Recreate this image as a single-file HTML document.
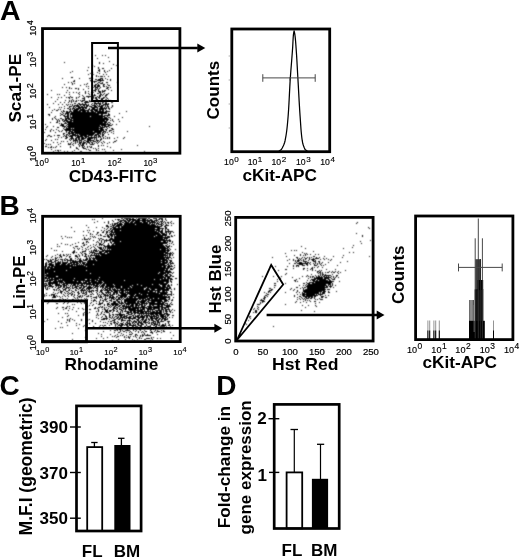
<!DOCTYPE html>
<html lang="en"><head><meta charset="utf-8"><title>Figure</title>
<style>html,body{margin:0;padding:0;background:#fff}body{width:520px;height:560px;overflow:hidden}svg{display:block}text{font-family:'Liberation Sans',Arial,Helvetica,sans-serif}</style></head><body>
<svg width="520" height="560" viewBox="0 0 520 560">
<defs><filter id="soft" x="-2%" y="-2%" width="104%" height="104%"><feConvolveMatrix order="3" kernelMatrix=".04 .11 .04 .11 .4 .11 .04 .11 .04" divisor="1" edgeMode="none" preserveAlpha="false"/></filter></defs>
<rect width="520" height="560" fill="#fff"/>
<text x="-.1" y="19.7" font-size="28.5" font-weight="bold" text-anchor="start" fill="#000">A</text>
<path d="M95 55.5h1m6 0h1m2 0h1M108 57.5h1M97 58.5h1M109 61.5h1M64 62.5h1m34 0h1M99 63.5h1m3 0h1M113 64.5h1M92 65.5h1m23 0h1M94 66.5h1M88 67.5h1m9 0h1M98 68.5h1m3 0h2m7 0h1M99 69.5h1M87 70.5h1m10 0h2m4 0h1m4 0h1M72 71.5h1m26 0h1m4 0h1m2 0h1M70 72.5h1m21 0h1m4 0h1m7 0h1M90 73.5h1m8 0h1M88 74.5h1m4 0h1m9 0h1m2 0h1M96 75.5h1M96 76.5h1m1 0h1m1 0h3m1 0h1m3 0h1M71 77.5h2m18 0h1M62 78.5h1m16 0h1m9 0h2m1 0h1m7 0h3m2 0h1M95 79.5h2m1 0h3m1 0h1m4 0h1m2 0h1M74 80.5h1m15 0h2m5 0h7m6 0h1M73 81.5h2m16 0h1m1 0h4m3 0h1M68 82.5h1m2 0h1m22 0h1m3 0h2m2 0h1m3 0h2m9 0h1M72 83.5h1m1 0h1m12 0h1m9 0h1m2 0h3M64 84.5h1m7 0h1m11 0h1m1 0h1m8 0h2m1 0h1m4 0h2m2 0h1M80 85.5h1m11 0h1m1 0h2m1 0h3m3 0h1m4 0h2M86 86.5h1m1 0h1m5 0h2m1 0h3m3 0h2m1 0h1M62 87.5h1m3 0h1m2 0h1m23 0h1m1 0h3m2 0h1m6 0h2m1 0h1M69 88.5h1m1 0h1m3 0h2m1 0h1m9 0h1m6 0h1m1 0h1m1 0h1m6 0h2M78 89.5h1m4 0h1m11 0h2m1 0h1m9 0h1M51 90.5h1m15 0h1m25 0h3m2 0h1m3 0h1m1 0h2m5 0h1M85 91.5h1m2 0h1m3 0h1m2 0h1m2 0h3m1 0h3M66 92.5h1m2 0h1m3 0h1m2 0h1m2 0h1m5 0h1m5 0h1m1 0h1m5 0h2m1 0h1M78 93.5h1m6 0h1m2 0h1m8 0h2m1 0h1m3 0h1m3 0h1M47 94.5h1m9 0h1m1 0h1m9 0h1m9 0h1m9 0h1m1 0h1m2 0h1m5 0h2m1 0h1m2 0h2M64 95.5h1m17 0h1m10 0h3m3 0h2m1 0h1m2 0h2M70 96.5h1m8 0h1m3 0h1m2 0h6m1 0h1m3 0h1m1 0h2m4 0h1M51 97.5h1m6 0h1m2 0h1m4 0h1m1 0h2m1 0h2m3 0h1m1 0h1m5 0h1m3 0h1m3 0h2m1 0h2m1 0h2m3 0h2m1 0h1M69 98.5h1m6 0h1m5 0h3m6 0h1m1 0h1m1 0h2m2 0h1m1 0h3m3 0h1M57 99.5h1m14 0h1m11 0h1m11 0h2m3 0h2m2 0h2m1 0h1M65 100.5h1m3 0h1m1 0h1m1 0h1m2 0h1m1 0h1m1 0h1m1 0h3m4 0h1m1 0h3m1 0h3m2 0h3m7 0h1M55 101.5h1m13 0h1m1 0h1m1 0h1m1 0h2m4 0h2m2 0h3m1 0h3m1 0h1m3 0h2m3 0h1m1 0h1M60 102.5h1m3 0h1m3 0h1m2 0h1m12 0h5m5 0h2m2 0h1m1 0h1m1 0h2m1 0h2m4 0h2M53 103.5h1m20 0h2m2 0h2m2 0h1m2 0h1m6 0h1m1 0h7m1 0h1m2 0h2m1 0h1M47 104.5h1m10 0h1m3 0h1m3 0h1m1 0h1m1 0h1m1 0h1m4 0h1m1 0h8m1 0h1m2 0h1m2 0h1m1 0h1m2 0h2m2 0h6M67 105.5h1m4 0h1m1 0h5m1 0h1m2 0h2m1 0h3m3 0h4m1 0h1m1 0h1m1 0h3m1 0h1m1 0h1m4 0h1M64 106.5h1m4 0h3m1 0h2m1 0h4m1 0h2m1 0h1m1 0h2m1 0h3m2 0h3m1 0h5m2 0h1m1 0h2m3 0h1M49 107.5h1m9 0h1m1 0h1m7 0h1m3 0h1m1 0h1m2 0h9m4 0h7m2 0h3m1 0h1m1 0h1m1 0h1m2 0h1M64 108.5h1m2 0h2m1 0h1m1 0h3m1 0h5m1 0h2m1 0h2m2 0h1m2 0h3m2 0h1m1 0h8m1 0h2M54 109.5h1m3 0h1m1 0h1m8 0h2m1 0h1m1 0h5m1 0h5m3 0h2m1 0h7m1 0h5m1 0h1m3 0h1M52 110.5h1m3 0h2m5 0h1m6 0h1m2 0h5m1 0h10m1 0h3m1 0h4m1 0h2m1 0h2m2 0h1M61 111.5h1m1 0h2m1 0h2m1 0h3m1 0h8m1 0h4m1 0h2m2 0h3m1 0h9m1 0h5m16 0h1M51 112.5h1m10 0h1m3 0h4m1 0h25m1 0h10M60 113.5h1m2 0h1m1 0h4m1 0h37m1 0h1m10 0h1M48 114.5h2m11 0h2m2 0h1m1 0h2m1 0h29m2 0h2m5 0h2M49 115.5h1m10 0h1m2 0h2m2 0h2m1 0h1m1 0h31m1 0h6M55 116.5h1m8 0h5m1 0h1m1 0h18m1 0h14m2 0h1m6 0h1M54 117.5h1m10 0h1m1 0h2m1 0h33m1 0h3m1 0h2m12 0h1M52 118.5h1m2 0h1m4 0h2m3 0h5m1 0h37m2 0h1M52 119.5h1m3 0h1m1 0h1m3 0h2m1 0h2m1 0h4m1 0h36m3 0h1m5 0h1M57 120.5h1m1 0h1m2 0h1m1 0h4m2 0h35m1 0h2m2 0h1m1 0h1M57 121.5h1m1 0h1m3 0h2m1 0h6m1 0h34m6 0h1m5 0h1M50 122.5h1m5 0h2m7 0h1m1 0h36m1 0h3m1 0h2M59 123.5h1m1 0h1m2 0h3m1 0h38m1 0h1m2 0h1M45 124.5h1m15 0h3m3 0h43m2 0h1m3 0h1M60 125.5h4m2 0h1m1 0h32m1 0h5m2 0h4M47 126.5h1m5 0h1m8 0h4m1 0h34m1 0h1m1 0h5m40 0h1M46 127.5h1m10 0h2m5 0h1m1 0h1m1 0h31m1 0h5m1 0h1m2 0h1M63 128.5h1m2 0h5m1 0h1m1 0h29m4 0h1m3 0h2M45 129.5h1m5 0h1m4 0h1m7 0h35m1 0h4m1 0h2m5 0h2M50 130.5h1m2 0h1m4 0h1m3 0h1m2 0h6m1 0h32m2 0h1m2 0h3M50 131.5h1m8 0h1m1 0h1m4 0h1m2 0h4m1 0h19m1 0h8m1 0h3m3 0h1m3 0h1m13 0h1M44 132.5h1m10 0h1m10 0h1m1 0h2m1 0h30m1 0h2m1 0h1m1 0h1m3 0h1M63 133.5h2m3 0h6m1 0h20m2 0h4m1 0h1m1 0h1m8 0h1M63 134.5h1m2 0h2m1 0h1m2 0h4m1 0h1m1 0h15m1 0h4m1 0h1m1 0h2m4 0h1M48 135.5h2m4 0h1m2 0h3m4 0h1m1 0h1m1 0h1m1 0h9m1 0h7m1 0h5m1 0h3m1 0h2m2 0h2M47 136.5h1m2 0h2m11 0h1m1 0h2m2 0h4m2 0h1m1 0h6m1 0h5m2 0h1m2 0h1m1 0h1m1 0h3m1 0h1m2 0h1M58 137.5h1m2 0h1m4 0h2m3 0h2m3 0h4m1 0h3m1 0h2m1 0h9m1 0h1m1 0h1m2 0h1m3 0h1m1 0h1m7 0h1m6 0h1M65 138.5h2m3 0h4m1 0h2m1 0h2m1 0h5m1 0h6m1 0h1m1 0h1m4 0h1m1 0h1m1 0h1m1 0h1m1 0h1m4 0h1m8 0h1M46 139.5h1m8 0h1m1 0h1m11 0h1m1 0h1m1 0h1m1 0h2m1 0h2m1 0h3m3 0h4m3 0h1m1 0h1m3 0h2M45 140.5h1m5 0h1m18 0h1m2 0h5m1 0h3m2 0h2m1 0h7m2 0h3m1 0h1m15 0h1M61 141.5h1m1 0h1m3 0h1m5 0h1m1 0h1m1 0h1m1 0h1m1 0h1m1 0h1m2 0h3m1 0h1m2 0h3m1 0h1m1 0h1m3 0h1m10 0h2M53 142.5h1m3 0h1m13 0h1m3 0h1m1 0h1m1 0h3m1 0h3m1 0h3m1 0h2m3 0h1m1 0h1m2 0h1m2 0h1m4 0h1m3 0h1M44 143.5h1m15 0h1m7 0h1m1 0h1m2 0h1m1 0h1m3 0h2m1 0h3m1 0h1m2 0h1m2 0h1m1 0h1m2 0h1m4 0h1m4 0h1M46 144.5h1m1 0h1m1 0h1m7 0h1m9 0h3m1 0h1m5 0h1m1 0h1m1 0h2m2 0h1m3 0h4M73 145.5h1m5 0h1m1 0h3m14 0h1m2 0h1m1 0h1m33 0h1M45 146.5h2m4 0h1m4 0h1m3 0h1m9 0h1m8 0h1m2 0h1m1 0h1m2 0h1m1 0h1m1 0h1m6 0h1m8 0h1M48 147.5h1m1 0h2m1 0h1m1 0h1m14 0h1m5 0h1m5 0h2m3 0h1m2 0h2m18 0h1M76 148.5h2m5 0h3m7 0h1m1 0h1m2 0h1M51 149.5h1m26 0h1m7 0h1m1 0h1m7 0h1m5 0h1m1 0h1m16 0h1M55 150.5h1m1 0h2m1 0h1m13 0h1m14 0h2m5 0h1m1 0h1m14 0h1M53 151.5h1m4 0h1m5 0h1m2 0h1m4 0h1m7 0h2m23 0h1m38 0h1" stroke="#000" stroke-width="1" fill="none" filter="url(#soft)"/>
<rect x="42.5" y="28.6" width="137.4" height="124.6" fill="none" stroke="#000" stroke-width="2.8"/>
<rect x="92.1" y="43" width="25.8" height="58" fill="none" stroke="#000" stroke-width="2.0"/>
<line x1="108" y1="48" x2="197.8" y2="48" stroke="#000" stroke-width="2.3"/>
<path d="M205.3 48L197.3 43.6L197.3 52.4Z" fill="#000"/>
<text x="21" y="122.6" font-size="17.2" font-weight="bold" text-anchor="start" fill="#000" transform="rotate(-90 21 122.6)">Sca1-PE</text>
<text x="68.7" y="182.4" font-size="17" font-weight="bold" text-anchor="start" fill="#000" textLength="88.2" lengthAdjust="spacingAndGlyphs">CD43-FITC</text>
<text x="36.4" y="153.8" font-size="9.2" text-anchor="middle" fill="#000" stroke="#000" stroke-width=".2" transform="rotate(-90 36.4 153.8)">10<tspan font-size="8.56" dx=".5" dy="-3.86">0</tspan></text>
<text x="36.4" y="121.8" font-size="9.2" text-anchor="middle" fill="#000" stroke="#000" stroke-width=".2" transform="rotate(-90 36.4 121.8)">10<tspan font-size="8.56" dx=".5" dy="-3.86">1</tspan></text>
<text x="36.4" y="91" font-size="9.2" text-anchor="middle" fill="#000" stroke="#000" stroke-width=".2" transform="rotate(-90 36.4 91)">10<tspan font-size="8.56" dx=".5" dy="-3.86">2</tspan></text>
<text x="36.4" y="59.4" font-size="9.2" text-anchor="middle" fill="#000" stroke="#000" stroke-width=".2" transform="rotate(-90 36.4 59.4)">10<tspan font-size="8.56" dx=".5" dy="-3.86">3</tspan></text>
<text x="36.4" y="28" font-size="9.2" text-anchor="middle" fill="#000" stroke="#000" stroke-width=".2" transform="rotate(-90 36.4 28)">10<tspan font-size="8.56" dx=".5" dy="-3.86">4</tspan></text>
<text x="41.8" y="166.2" font-size="8.3" text-anchor="middle" fill="#000" stroke="#000" stroke-width=".15">10<tspan font-size="7.72" dx=".5" dy="-3.49">0</tspan></text>
<text x="78.2" y="166.2" font-size="8.3" text-anchor="middle" fill="#000" stroke="#000" stroke-width=".15">10<tspan font-size="7.72" dx=".5" dy="-3.49">1</tspan></text>
<text x="114.6" y="166.2" font-size="8.3" text-anchor="middle" fill="#000" stroke="#000" stroke-width=".15">10<tspan font-size="7.72" dx=".5" dy="-3.49">2</tspan></text>
<text x="150.4" y="166.2" font-size="8.3" text-anchor="middle" fill="#000" stroke="#000" stroke-width=".15">10<tspan font-size="7.72" dx=".5" dy="-3.49">3</tspan></text>
<path d="M278.8 151.2L281.39 149.46L282.36 147.71L283.24 145.97L284 144.22L284.61 142.48L285.06 140.73L285.41 138.99L285.74 137.24L286.03 135.5L286.3 133.75L286.55 132.01L286.78 130.26L286.99 128.52L287.18 126.77L287.36 125.03L287.52 123.28L287.68 121.54L287.83 119.79L287.98 118.05L288.12 116.3L288.26 114.56L288.38 112.81L288.5 111.07L288.61 109.32L288.72 107.58L288.82 105.83L288.92 104.09L289.01 102.34L289.11 100.6L289.19 98.85L289.28 97.11L289.37 95.36L289.45 93.62L289.54 91.87L289.63 90.13L289.72 88.38L289.81 86.64L289.91 84.89L290.01 83.15L290.11 81.4L290.22 79.66L290.33 77.91L290.45 76.17L290.58 74.42L290.71 72.68L290.84 70.93L290.97 69.19L291.11 67.44L291.25 65.7L291.39 63.95L291.53 62.21L291.67 60.46L291.81 58.72L291.95 56.97L292.08 55.23L292.22 53.48L292.35 51.74L292.47 49.99L292.6 48.25L292.71 46.5L292.8 44.76L292.89 43.01L292.98 41.27L293.07 39.52L293.18 37.78L293.31 36.03L293.47 34.29L293.73 32.54L294.1 30.8L294.1 30.8L294.52 32.54L294.84 34.29L295.06 36.03L295.26 37.78L295.43 39.52L295.58 41.27L295.72 43.01L295.85 44.76L295.98 46.5L296.1 48.25L296.23 49.99L296.35 51.74L296.47 53.48L296.58 55.23L296.69 56.97L296.79 58.72L296.9 60.46L297 62.21L297.09 63.95L297.19 65.7L297.29 67.44L297.38 69.19L297.48 70.93L297.57 72.68L297.67 74.42L297.77 76.17L297.87 77.91L297.97 79.66L298.07 81.4L298.17 83.15L298.27 84.89L298.37 86.64L298.46 88.38L298.55 90.13L298.65 91.87L298.74 93.62L298.84 95.36L298.93 97.11L299.03 98.85L299.12 100.6L299.22 102.34L299.32 104.09L299.42 105.83L299.53 107.58L299.63 109.32L299.74 111.07L299.86 112.81L299.97 114.56L300.09 116.3L300.22 118.05L300.34 119.79L300.46 121.54L300.58 123.28L300.69 125.03L300.82 126.77L300.94 128.52L301.08 130.26L301.23 132.01L301.4 133.75L301.58 135.5L301.78 137.24L302.01 138.99L302.26 140.73L302.58 142.48L303.03 144.22L303.6 145.97L304.28 147.71L305.07 149.46L307.4 151.2" fill="none" stroke="#000" stroke-width="1.25" stroke-linejoin="round"/>
<rect x="231.8" y="29" width="97.9" height="122.7" fill="none" stroke="#000" stroke-width="2.8"/>
<line x1="262.8" y1="77.9" x2="315.2" y2="77.9" stroke="#484848" stroke-width="1"/>
<line x1="262.8" y1="74.2" x2="262.8" y2="81.8" stroke="#484848" stroke-width="1"/>
<line x1="315.2" y1="74.2" x2="315.2" y2="81.8" stroke="#484848" stroke-width="1"/>
<line x1="289.8" y1="77" x2="289.8" y2="80.6" stroke="#484848" stroke-width="0.8"/>
<line x1="228.6" y1="128" x2="230.4" y2="128" stroke="#777" stroke-width="0.6"/>
<line x1="228.6" y1="104" x2="230.4" y2="104" stroke="#777" stroke-width="0.6"/>
<line x1="228.6" y1="80" x2="230.4" y2="80" stroke="#777" stroke-width="0.6"/>
<line x1="228.6" y1="56" x2="230.4" y2="56" stroke="#777" stroke-width="0.6"/>
<text x="219.4" y="119.4" font-size="17" font-weight="bold" text-anchor="start" fill="#000" transform="rotate(-90 219.4 119.4)">Counts</text>
<text x="242.4" y="181.2" font-size="17" font-weight="bold" text-anchor="start" fill="#000" textLength="74.6" lengthAdjust="spacingAndGlyphs">cKit-APC</text>
<text x="231.4" y="165.2" font-size="8.7" text-anchor="middle" fill="#000" stroke="#000" stroke-width=".15">10<tspan font-size="8.09" dx=".5" dy="-3.65">0</tspan></text>
<text x="255" y="165.2" font-size="8.7" text-anchor="middle" fill="#000" stroke="#000" stroke-width=".15">10<tspan font-size="8.09" dx=".5" dy="-3.65">1</tspan></text>
<text x="278.8" y="165.2" font-size="8.7" text-anchor="middle" fill="#000" stroke="#000" stroke-width=".15">10<tspan font-size="8.09" dx=".5" dy="-3.65">2</tspan></text>
<text x="303.3" y="165.2" font-size="8.7" text-anchor="middle" fill="#000" stroke="#000" stroke-width=".15">10<tspan font-size="8.09" dx=".5" dy="-3.65">3</tspan></text>
<text x="327.6" y="165.2" font-size="8.7" text-anchor="middle" fill="#000" stroke="#000" stroke-width=".15">10<tspan font-size="8.09" dx=".5" dy="-3.65">4</tspan></text>
<text x="-.4" y="214.7" font-size="28" font-weight="bold" text-anchor="start" fill="#000">B</text>
<path d="M102 218.5h1m18 0h2m1 0h7m1 0h2m2 0h1m1 0h9m1 0h2m3 0h4m2 0h4m2 0h1M92 219.5h1m1 0h1m20 0h1m1 0h3m3 0h1m2 0h2m1 0h7m1 0h3m2 0h4m1 0h1m2 0h2m4 0h1m1 0h2m1 0h2m2 0h1M112 220.5h1m5 0h1m1 0h6m1 0h4m1 0h21m1 0h4m4 0h1m3 0h1M97 221.5h1m10 0h1m4 0h1m5 0h3m2 0h3m1 0h2m1 0h3m1 0h5m2 0h4m1 0h3m1 0h4m1 0h1m1 0h1m1 0h3m1 0h1m6 0h1M94 222.5h1m9 0h1m3 0h1m8 0h2m1 0h1m1 0h2m1 0h4m1 0h3m1 0h8m1 0h5m1 0h7m1 0h1m1 0h1m1 0h1m1 0h1m1 0h1m1 0h2m1 0h1M108 223.5h1m3 0h1m1 0h4m1 0h3m2 0h24m1 0h2m1 0h1m1 0h1m1 0h3m2 0h2m2 0h1m2 0h1m2 0h1m1 0h1M110 224.5h1m1 0h1m1 0h2m1 0h6m1 0h11m1 0h14m1 0h4m1 0h1m1 0h4m1 0h1m2 0h1M86 225.5h1m19 0h2m4 0h3m1 0h6m1 0h33m1 0h1m3 0h2m2 0h4m2 0h1M106 226.5h3m1 0h2m1 0h1m1 0h5m1 0h41m2 0h2M71 227.5h1m16 0h1m7 0h1m5 0h1m5 0h1m3 0h4m2 0h2m1 0h39m5 0h2M104 228.5h1m2 0h1m2 0h2m1 0h42m2 0h7m1 0h2M106 229.5h1m3 0h1m1 0h48m2 0h1m2 0h1m1 0h2M87 230.5h1m1 0h1m11 0h1m2 0h1m3 0h2m1 0h2m1 0h6m1 0h34m1 0h4m1 0h2m2 0h1m2 0h1M74 231.5h1m8 0h1m9 0h1m9 0h1m2 0h2m2 0h3m1 0h43m1 0h5m2 0h8M88 232.5h1m8 0h2m3 0h2m2 0h2m1 0h1m1 0h48m1 0h3m2 0h2m1 0h1m1 0h1m2 0h1M90 233.5h1m6 0h1m8 0h1m3 0h2m1 0h1m1 0h45m1 0h4m1 0h1m2 0h2M90 234.5h1m1 0h1m3 0h1m3 0h1m4 0h1m1 0h1m1 0h52m1 0h5m2 0h1M83 235.5h1m2 0h1m11 0h1m1 0h2m5 0h2m1 0h3m1 0h1m1 0h40m1 0h10m4 0h1m2 0h1M61 236.5h1m3 0h1m24 0h1m1 0h1m1 0h1m8 0h3m1 0h3m1 0h2m1 0h40m1 0h8m2 0h1m1 0h3m1 0h2M67 237.5h1m1 0h1m1 0h1m12 0h1m8 0h1m1 0h1m12 0h2m1 0h1m2 0h56M62 238.5h1m21 0h1m3 0h1m1 0h1m7 0h1m1 0h2m8 0h3m1 0h49m1 0h4M82 239.5h1m1 0h4m1 0h1m9 0h1m2 0h2m2 0h1m2 0h56m1 0h1m2 0h1M93 240.5h1m5 0h1m1 0h1m2 0h7m1 0h59M86 241.5h2m9 0h1m3 0h1m2 0h1m1 0h1m3 0h1m1 0h8m1 0h40m2 0h3m1 0h1m1 0h2m1 0h1M78 242.5h1m4 0h1m2 0h1m1 0h1m7 0h1m1 0h1m2 0h1m2 0h1m5 0h2m2 0h54m4 0h1M61 243.5h1m13 0h1m6 0h2m15 0h2m2 0h1m4 0h1m2 0h1m1 0h54m2 0h1m1 0h1M57 244.5h1m7 0h1m1 0h1m4 0h1m11 0h1m1 0h1m6 0h1m2 0h1m2 0h4m5 0h1m3 0h2m1 0h48m4 0h1m5 0h1M70 245.5h1m12 0h2m5 0h1m4 0h1m3 0h1m1 0h1m1 0h2m2 0h3m1 0h53m1 0h2m2 0h1M57 246.5h1m1 0h1m15 0h3m3 0h1m6 0h1m4 0h1m3 0h1m6 0h61m1 0h4m1 0h1M73 247.5h1m8 0h1m4 0h1m3 0h1m2 0h1m3 0h4m1 0h1m1 0h1m1 0h59m1 0h2M51 248.5h1m22 0h1m2 0h1m1 0h1m5 0h1m4 0h1m4 0h1m3 0h3m1 0h1m1 0h1m1 0h61m1 0h1M78 249.5h1m3 0h1m3 0h1m1 0h1m5 0h1m1 0h1m3 0h3m1 0h1m2 0h1m1 0h1m1 0h49m1 0h5m1 0h2m1 0h1m4 0h1M54 250.5h1m1 0h1m17 0h1m10 0h1m5 0h1m1 0h4m1 0h1m3 0h68M62 251.5h1m10 0h2m7 0h4m3 0h1m1 0h1m1 0h1m1 0h3m1 0h5m1 0h61m1 0h2M72 252.5h3m1 0h1m3 0h1m1 0h1m7 0h5m4 0h3m2 0h4m1 0h59m2 0h1m1 0h1M73 253.5h1m7 0h1m2 0h2m3 0h1m2 0h1m1 0h11m2 0h57m1 0h7m1 0h1M57 254.5h1m2 0h1m2 0h1m2 0h1m1 0h1m1 0h1m7 0h1m3 0h1m2 0h2m4 0h1m2 0h1m1 0h1m1 0h1m1 0h66m1 0h1m1 0h2m1 0h1M47 255.5h1m7 0h1m3 0h2m2 0h2m2 0h1m7 0h2m2 0h1m2 0h1m2 0h1m2 0h1m1 0h10m1 0h67m1 0h2m1 0h1M46 256.5h1m5 0h1m7 0h2m4 0h1m2 0h2m4 0h3m1 0h1m4 0h3m1 0h1m1 0h1m4 0h69m1 0h1m1 0h1m1 0h1M51 257.5h1m3 0h1m1 0h1m1 0h1m1 0h1m7 0h1m7 0h1m8 0h1m2 0h1m1 0h1m1 0h1m1 0h76m2 0h1M55 258.5h2m8 0h1m4 0h2m3 0h1m2 0h1m1 0h1m5 0h2m1 0h2m1 0h73m1 0h3m2 0h1M44 259.5h1m1 0h1m3 0h1m1 0h2m1 0h1m2 0h1m1 0h3m1 0h1m1 0h2m2 0h2m5 0h1m1 0h2m2 0h1m1 0h3m1 0h2m2 0h2m1 0h71m1 0h1M47 260.5h2m1 0h2m3 0h3m4 0h1m1 0h2m1 0h7m1 0h1m3 0h3m1 0h4m1 0h8m1 0h64m1 0h6m1 0h3M48 261.5h4m2 0h2m2 0h1m1 0h1m1 0h1m4 0h1m2 0h1m1 0h11m4 0h78m1 0h2m2 0h2M46 262.5h1m1 0h1m2 0h3m1 0h1m1 0h4m1 0h6m2 0h8m1 0h2m1 0h4m1 0h74m1 0h6m1 0h2m1 0h1M45 263.5h2m2 0h3m3 0h6m1 0h5m1 0h4m1 0h2m1 0h3m1 0h1m1 0h3m1 0h81m1 0h1m1 0h4M45 264.5h2m1 0h6m1 0h5m1 0h5m1 0h3m1 0h7m1 0h1m1 0h1m1 0h10m1 0h71m2 0h2m1 0h1M45 265.5h2m2 0h5m1 0h18m1 0h1m1 0h8m1 0h82m1 0h2m1 0h1m2 0h1M44 266.5h3m1 0h2m1 0h35m1 0h75m1 0h3m1 0h6M44 267.5h2m1 0h6m1 0h16m1 0h95m1 0h3m4 0h1M44 268.5h2m1 0h2m1 0h119m1 0h2m1 0h1M44 269.5h121m1 0h2m2 0h3M44 270.5h22m1 0h19m1 0h81m1 0h1M44 271.5h10m1 0h109m1 0h6M44 272.5h115m1 0h12m1 0h1M44 273.5h3m1 0h42m1 0h67m1 0h7m1 0h2m3 0h1M44 274.5h1m1 0h118m1 0h3m1 0h2M44 275.5h119m1 0h4m2 0h2M44 276.5h1m1 0h10m2 0h106m1 0h6m1 0h2M44 277.5h3m1 0h51m1 0h66m1 0h3M44 278.5h6m1 0h2m1 0h20m1 0h88m1 0h2m1 0h5m3 0h2M44 279.5h1m2 0h1m1 0h10m1 0h1m1 0h23m2 0h3m1 0h7m1 0h55m1 0h5m1 0h8m1 0h3M44 280.5h1m1 0h7m1 0h3m1 0h15m1 0h21m1 0h28m1 0h44m1 0h1M44 281.5h4m1 0h2m2 0h10m1 0h13m1 0h3m2 0h1m1 0h5m1 0h6m1 0h4m1 0h66m1 0h2M48 282.5h10m1 0h5m1 0h17m1 0h4m1 0h15m1 0h60m2 0h3m2 0h1M44 283.5h3m1 0h10m1 0h1m1 0h1m1 0h28m1 0h10m1 0h65M44 284.5h1m1 0h1m1 0h3m1 0h1m2 0h5m2 0h3m1 0h2m3 0h1m1 0h3m1 0h2m2 0h2m1 0h1m1 0h9m1 0h3m1 0h1m1 0h3m1 0h7m1 0h23m1 0h14m1 0h6m1 0h7m1 0h1m2 0h1m5 0h1M44 285.5h4m1 0h3m3 0h7m1 0h4m1 0h1m1 0h1m1 0h4m1 0h1m1 0h5m2 0h1m2 0h1m1 0h1m1 0h5m1 0h1m1 0h4m1 0h8m1 0h17m1 0h8m1 0h18m2 0h4m1 0h3m1 0h1M44 286.5h2m2 0h6m2 0h1m1 0h1m1 0h2m1 0h2m1 0h1m3 0h1m1 0h1m2 0h4m2 0h1m1 0h4m1 0h3m2 0h1m1 0h4m1 0h4m1 0h16m1 0h8m1 0h30m1 0h4m1 0h3M45 287.5h1m1 0h1m4 0h1m2 0h1m2 0h3m2 0h2m1 0h4m2 0h1m1 0h3m2 0h3m1 0h2m2 0h6m1 0h2m1 0h1m2 0h1m1 0h2m1 0h3m1 0h5m1 0h6m1 0h9m1 0h14m1 0h21m1 0h2M45 288.5h1m1 0h1m1 0h1m7 0h2m3 0h1m2 0h2m1 0h1m1 0h1m1 0h2m2 0h2m1 0h2m1 0h2m2 0h6m1 0h1m2 0h2m4 0h1m1 0h2m1 0h4m1 0h1m1 0h1m1 0h12m1 0h15m2 0h3m1 0h15m1 0h5m3 0h1M46 289.5h2m5 0h2m1 0h1m2 0h1m3 0h3m3 0h1m5 0h1m2 0h1m2 0h2m1 0h1m1 0h1m1 0h2m7 0h1m3 0h1m1 0h1m1 0h3m1 0h2m1 0h4m1 0h1m2 0h4m1 0h19m1 0h5m1 0h4m2 0h12m2 0h1m2 0h1M54 290.5h1m1 0h1m1 0h1m1 0h1m2 0h1m1 0h1m2 0h2m1 0h1m3 0h2m3 0h6m1 0h1m1 0h1m1 0h3m1 0h3m2 0h3m1 0h8m1 0h48m1 0h7M60 291.5h3m3 0h2m4 0h2m4 0h1m2 0h1m1 0h1m2 0h1m1 0h4m1 0h1m3 0h1m2 0h2m5 0h2m2 0h2m1 0h4m1 0h1m1 0h3m1 0h1m1 0h1m1 0h19m1 0h4m2 0h1m1 0h3m2 0h3m1 0h1m3 0h2M53 292.5h1m4 0h1m1 0h2m2 0h1m3 0h1m2 0h1m2 0h1m2 0h2m2 0h1m1 0h1m1 0h2m2 0h1m1 0h1m4 0h1m2 0h1m1 0h2m2 0h6m2 0h5m1 0h5m1 0h31m1 0h11m3 0h1M46 293.5h1m8 0h1m1 0h1m3 0h1m3 0h1m1 0h1m1 0h2m1 0h1m5 0h2m2 0h3m1 0h1m5 0h1m4 0h1m4 0h2m2 0h1m1 0h1m1 0h1m2 0h2m1 0h2m2 0h6m1 0h12m1 0h19m1 0h7m4 0h1M44 294.5h1m6 0h4m8 0h1m4 0h1m2 0h2m1 0h1m3 0h1m6 0h2m3 0h2m1 0h1m3 0h1m1 0h1m1 0h1m1 0h3m1 0h1m1 0h2m1 0h3m1 0h1m1 0h1m2 0h7m1 0h6m1 0h5m1 0h5m1 0h24m1 0h1M44 295.5h1m1 0h1m2 0h1m1 0h1m1 0h2m1 0h1m7 0h1m2 0h1m3 0h1m2 0h1m2 0h1m2 0h1m1 0h1m1 0h1m3 0h1m9 0h1m1 0h1m3 0h5m1 0h3m5 0h9m3 0h4m1 0h28m1 0h1m2 0h1m3 0h1M44 296.5h1m8 0h3m1 0h1m1 0h1m2 0h1m2 0h1m2 0h1m4 0h1m4 0h3m1 0h1m3 0h3m1 0h2m4 0h1m1 0h1m1 0h2m1 0h1m1 0h1m1 0h1m1 0h2m1 0h2m2 0h2m2 0h7m1 0h39m1 0h2M52 297.5h4m4 0h1m13 0h1m2 0h1m1 0h1m1 0h1m11 0h4m2 0h3m3 0h1m3 0h6m1 0h1m1 0h5m1 0h2m1 0h1m1 0h4m1 0h2m2 0h10m1 0h21m3 0h1M62 298.5h1m4 0h1m7 0h1m1 0h1m6 0h1m1 0h1m4 0h1m4 0h1m5 0h1m2 0h1m1 0h1m1 0h1m1 0h3m1 0h1m2 0h2m1 0h1m1 0h1m2 0h20m1 0h6m1 0h4m1 0h7m3 0h1M52 299.5h1m6 0h2m2 0h1m1 0h1m6 0h2m4 0h1m2 0h1m3 0h1m1 0h1m6 0h1m5 0h1m3 0h3m4 0h1m1 0h2m1 0h5m1 0h1m1 0h14m1 0h2m1 0h2m1 0h5m1 0h16m1 0h2m2 0h1M49 300.5h1m8 0h1m4 0h1m1 0h1m3 0h1m2 0h1m3 0h1m8 0h2m4 0h1m1 0h3m4 0h1m1 0h2m1 0h1m3 0h3m4 0h2m3 0h1m2 0h13m1 0h1m2 0h6m1 0h14m2 0h4m3 0h2M55 301.5h1m3 0h1m4 0h1m2 0h1m2 0h1m11 0h2m1 0h1m7 0h1m2 0h1m2 0h1m3 0h1m2 0h2m3 0h1m1 0h3m1 0h3m1 0h1m2 0h12m1 0h9m1 0h2m2 0h12m1 0h3m1 0h1M48 302.5h1m15 0h1m3 0h1m8 0h1m2 0h1m3 0h2m5 0h1m7 0h1m2 0h1m6 0h1m3 0h3m2 0h2m1 0h2m1 0h2m1 0h9m1 0h2m1 0h5m1 0h1m1 0h7m2 0h4m1 0h3m6 0h1M47 303.5h1m8 0h2m5 0h1m3 0h1m13 0h1m2 0h1m5 0h1m5 0h1m2 0h4m4 0h2m2 0h7m1 0h5m1 0h15m1 0h7m1 0h15m1 0h3m2 0h1M72 304.5h1m1 0h1m18 0h1m4 0h3m3 0h1m2 0h3m1 0h8m2 0h1m2 0h1m1 0h4m1 0h3m1 0h3m1 0h4m1 0h1m1 0h1m2 0h16m2 0h1m1 0h1m1 0h2M89 305.5h1m2 0h1m11 0h1m2 0h1m2 0h1m1 0h2m1 0h3m1 0h2m1 0h3m1 0h1m1 0h1m1 0h4m1 0h5m1 0h2m1 0h2m3 0h2m1 0h2m3 0h3m1 0h2m1 0h6M67 306.5h1m1 0h1m17 0h1m12 0h1m1 0h1m5 0h2m1 0h1m2 0h2m2 0h2m2 0h12m1 0h2m1 0h1m2 0h4m2 0h5m1 0h10m3 0h5M57 307.5h1m4 0h2m2 0h1m6 0h1m21 0h1m2 0h2m1 0h2m1 0h1m1 0h1m3 0h1m2 0h2m1 0h2m2 0h2m1 0h1m1 0h6m1 0h15m1 0h12m1 0h8M56 308.5h1m8 0h2m2 0h1m8 0h1m3 0h1m11 0h2m1 0h1m6 0h1m3 0h1m4 0h3m1 0h1m1 0h1m2 0h5m1 0h11m1 0h1m1 0h3m1 0h6m1 0h7m1 0h2m1 0h2m2 0h1M63 309.5h1m8 0h1m10 0h1m1 0h1m3 0h2m7 0h1m3 0h1m1 0h2m1 0h1m4 0h2m2 0h1m2 0h3m1 0h1m1 0h1m2 0h8m1 0h2m1 0h5m2 0h8m3 0h2m1 0h3m1 0h5m2 0h1M68 310.5h1m29 0h1m6 0h3m1 0h3m1 0h2m2 0h1m3 0h2m2 0h1m3 0h14m1 0h1m2 0h2m1 0h1m1 0h1m2 0h7m1 0h1m1 0h2m2 0h1m1 0h1m2 0h1M76 311.5h1m19 0h1m1 0h1m3 0h1m2 0h3m1 0h2m2 0h1m2 0h2m2 0h1m1 0h1m1 0h5m1 0h2m1 0h3m1 0h14m1 0h3m1 0h2m1 0h3m1 0h1m1 0h3m1 0h2M84 312.5h1m4 0h1m11 0h1m2 0h1m1 0h3m3 0h1m5 0h1m1 0h1m1 0h1m4 0h5m1 0h6m1 0h4m1 0h2m1 0h1m1 0h12m1 0h1m2 0h1m3 0h1m1 0h1M58 313.5h1m6 0h1m1 0h1m15 0h1m3 0h1m9 0h1m3 0h1m7 0h1m9 0h2m5 0h3m2 0h2m1 0h2m1 0h25m2 0h4M83 314.5h1m1 0h1m11 0h1m2 0h1m2 0h2m4 0h1m2 0h2m1 0h10m3 0h4m2 0h1m4 0h1m1 0h1m1 0h1m2 0h1m1 0h1m1 0h4m1 0h3m1 0h6m1 0h4M68 315.5h1m9 0h1m4 0h1m12 0h1m1 0h1m6 0h1m3 0h2m2 0h1m3 0h1m1 0h4m1 0h1m1 0h2m4 0h2m1 0h1m1 0h3m1 0h2m1 0h6m1 0h1m1 0h2m1 0h3m1 0h4m1 0h1m1 0h2m3 0h2M67 316.5h1m34 0h1m2 0h2m2 0h1m2 0h1m2 0h2m1 0h1m1 0h2m1 0h4m2 0h3m1 0h1m1 0h4m1 0h5m1 0h2m1 0h8m1 0h1m1 0h6m1 0h1M62 317.5h1m33 0h1m4 0h1m4 0h1m2 0h2m1 0h1m1 0h1m2 0h2m1 0h5m1 0h5m2 0h3m1 0h8m1 0h2m2 0h3m1 0h1m1 0h3m2 0h3m1 0h2m2 0h1m2 0h1M70 318.5h1m27 0h1m4 0h5m3 0h1m1 0h1m2 0h2m1 0h2m1 0h1m1 0h3m1 0h8m2 0h2m2 0h2m2 0h1m1 0h1m1 0h8m1 0h2m1 0h4m1 0h1M47 319.5h1m19 0h1m1 0h1m2 0h1m8 0h1m5 0h1m1 0h1m11 0h4m1 0h1m2 0h1m4 0h2m2 0h2m1 0h2m6 0h1m2 0h1m3 0h3m2 0h3m1 0h2m1 0h2m1 0h2m2 0h2m1 0h2m1 0h2m1 0h4M67 320.5h1m1 0h1m4 0h1m6 0h1m5 0h1m4 0h1m19 0h3m6 0h5m1 0h4m3 0h1m2 0h2m1 0h1m1 0h1m1 0h3m2 0h1m1 0h3m2 0h3m2 0h1m2 0h2M44 321.5h1m13 0h1m10 0h1m16 0h1m5 0h1m7 0h1m7 0h1m1 0h2m2 0h1m2 0h1m3 0h1m5 0h1m1 0h1m1 0h1m1 0h4m1 0h2m1 0h1m1 0h3m2 0h1m4 0h3m1 0h2m1 0h4m3 0h3M66 322.5h1m36 0h1m1 0h1m7 0h3m2 0h1m4 0h1m2 0h2m1 0h1m2 0h2m1 0h2m1 0h4m1 0h5m1 0h1m1 0h3m1 0h1m1 0h3m8 0h1M61 323.5h1m14 0h1m12 0h1m5 0h1m11 0h1m2 0h2m2 0h1m1 0h2m2 0h3m2 0h1m1 0h4m1 0h1m1 0h1m2 0h2m1 0h3m2 0h1m2 0h2m1 0h1m1 0h3m1 0h1m1 0h1m5 0h1m2 0h1M79 324.5h1m31 0h1m3 0h1m1 0h1m1 0h1m1 0h3m1 0h3m1 0h2m2 0h1m1 0h1m1 0h2m2 0h3m2 0h1m4 0h2m1 0h4m1 0h1m2 0h2m1 0h1m3 0h1M67 325.5h1m8 0h1m7 0h1m15 0h1m1 0h1m1 0h2m3 0h1m5 0h1m2 0h5m1 0h1m1 0h2m1 0h7m2 0h4m4 0h1m3 0h1m2 0h2m1 0h1m1 0h2m1 0h5m2 0h2m2 0h1M83 326.5h1m9 0h1m5 0h1m3 0h1m11 0h1m1 0h1m2 0h2m5 0h2m3 0h2m1 0h3m2 0h2m2 0h2m1 0h4m4 0h2m3 0h5m1 0h1m3 0h1M60 327.5h1m1 0h1m30 0h2m11 0h1m6 0h1m4 0h1m2 0h1m1 0h1m2 0h2m4 0h1m4 0h1m1 0h2m1 0h1m2 0h1m2 0h1m1 0h1m2 0h1m1 0h2m1 0h2M55 328.5h1m22 0h1m40 0h3m4 0h2m2 0h1m2 0h1m1 0h3m1 0h1m1 0h5m1 0h2m2 0h1m1 0h1m3 0h4m1 0h1m1 0h1M116 329.5h2m1 0h2m6 0h1m5 0h1m1 0h1m3 0h2m9 0h2m1 0h1m1 0h1M85 330.5h1m24 0h1m3 0h2m1 0h1m2 0h1m1 0h1m2 0h5m3 0h1m2 0h1m3 0h1m3 0h1m5 0h1m4 0h1m1 0h1m3 0h1m1 0h1M103 331.5h1m16 0h1m2 0h2m5 0h1m4 0h1m2 0h1m3 0h1m2 0h2m4 0h1m2 0h1m2 0h3m3 0h2M114 332.5h1m3 0h2m6 0h1m2 0h1m1 0h1m6 0h1m2 0h1m1 0h1m6 0h3m3 0h1m4 0h1m8 0h1M72 333.5h1m25 0h1m22 0h1m10 0h1m11 0h1m7 0h1M101 334.5h1m8 0h1m6 0h1m5 0h1m5 0h3m3 0h2m5 0h1m1 0h1m2 0h1m9 0h1M115 335.5h1m4 0h1m1 0h1m3 0h1m8 0h1m1 0h1m2 0h1m1 0h2m1 0h6m22 0h1M101 336.5h1m10 0h1m1 0h1m2 0h2m5 0h1m3 0h1m1 0h1m2 0h1m1 0h1m4 0h1m1 0h1M85 337.5h1m21 0h1m8 0h1m7 0h1m1 0h1m1 0h2m6 0h1m2 0h1m11 0h1m1 0h1M96 338.5h1m6 0h1m25 0h1m9 0h1m1 0h1m4 0h4m1 0h1m5 0h1m2 0h1m10 0h1M72 339.5h1m45 0h1m6 0h1m6 0h1m4 0h1m6 0h2m6 0h1M112 340.5h1m21 0h1m15 0h1" stroke="#000" stroke-width="1" fill="none" filter="url(#soft)"/>
<rect x="42.6" y="216.3" width="137.6" height="125.3" fill="none" stroke="#000" stroke-width="2.8"/>
<rect x="42.6" y="300.9" width="43.9" height="40.9" fill="none" stroke="#000" stroke-width="2.8"/>
<line x1="86.5" y1="328.25" x2="215" y2="328.25" stroke="#000" stroke-width="2.6"/>
<line x1="200" y1="328.25" x2="214.9" y2="328.25" stroke="#000" stroke-width="2.6"/>
<path d="M222.2 328.25L214.4 323.75L214.4 332.75Z" fill="#000"/>
<text x="25.5" y="309.2" font-size="17" font-weight="bold" text-anchor="start" fill="#000" transform="rotate(-90 25.5 309.2)">Lin-PE</text>
<text x="64.5" y="370.4" font-size="17" font-weight="bold" text-anchor="start" fill="#000" textLength="93.8" lengthAdjust="spacingAndGlyphs">Rhodamine</text>
<text x="36.4" y="342.6" font-size="9" text-anchor="middle" fill="#000" stroke="#000" stroke-width=".15" transform="rotate(-90 36.4 342.6)">10<tspan font-size="8.37" dx=".5" dy="-3.78">0</tspan></text>
<text x="36.4" y="311.6" font-size="9" text-anchor="middle" fill="#000" stroke="#000" stroke-width=".15" transform="rotate(-90 36.4 311.6)">10<tspan font-size="8.37" dx=".5" dy="-3.78">1</tspan></text>
<text x="36.4" y="278.6" font-size="9" text-anchor="middle" fill="#000" stroke="#000" stroke-width=".15" transform="rotate(-90 36.4 278.6)">10<tspan font-size="8.37" dx=".5" dy="-3.78">2</tspan></text>
<text x="36.4" y="247.4" font-size="9" text-anchor="middle" fill="#000" stroke="#000" stroke-width=".15" transform="rotate(-90 36.4 247.4)">10<tspan font-size="8.37" dx=".5" dy="-3.78">3</tspan></text>
<text x="36.4" y="215.6" font-size="9" text-anchor="middle" fill="#000" stroke="#000" stroke-width=".15" transform="rotate(-90 36.4 215.6)">10<tspan font-size="8.37" dx=".5" dy="-3.78">4</tspan></text>
<text x="42.6" y="355.4" font-size="7.9" text-anchor="middle" fill="#000" stroke="#000" stroke-width=".15">10<tspan font-size="7.35" dx=".5" dy="-3.32">0</tspan></text>
<text x="76.4" y="355.4" font-size="7.9" text-anchor="middle" fill="#000" stroke="#000" stroke-width=".15">10<tspan font-size="7.35" dx=".5" dy="-3.32">1</tspan></text>
<text x="111" y="355.4" font-size="7.9" text-anchor="middle" fill="#000" stroke="#000" stroke-width=".15">10<tspan font-size="7.35" dx=".5" dy="-3.32">2</tspan></text>
<text x="145.4" y="355.4" font-size="7.9" text-anchor="middle" fill="#000" stroke="#000" stroke-width=".15">10<tspan font-size="7.35" dx=".5" dy="-3.32">3</tspan></text>
<text x="180" y="355.4" font-size="7.9" text-anchor="middle" fill="#000" stroke="#000" stroke-width=".15">10<tspan font-size="7.35" dx=".5" dy="-3.32">4</tspan></text>
<path d="M357 222.5h1M356 223.5h1M368 227.5h1M369 228.5h1M356 233.5h1M362 235.5h1M362 236.5h1M370 240.5h1M360 241.5h1M361 243.5h1M353 245.5h1M301 246.5h1M352 247.5h1M305 248.5h1m37 0h1M291 250.5h1m2 0h1m1 0h1M313 251.5h1M302 252.5h1m46 0h1m3 0h1M285 253.5h1m18 0h1m1 0h1M300 254.5h1m4 0h1m1 0h1m2 0h1m4 0h1m2 0h1M294 255.5h1m5 0h1m2 0h1m1 0h1m37 0h1M286 256.5h1m26 0h2m9 0h1m8 0h1m35 0h1M272 257.5h1m23 0h2m4 0h1m1 0h1m2 0h1m1 0h1m1 0h1m4 0h1m2 0h1m22 0h1M297 258.5h1m1 0h1m1 0h1m3 0h2m2 0h1m3 0h1m1 0h4m4 0h1m2 0h1M289 259.5h1m3 0h1m4 0h1m1 0h1m2 0h1m1 0h1m3 0h1m1 0h4m5 0h1m3 0h1m3 0h1m2 0h1M287 260.5h1m5 0h1m1 0h1m1 0h3m1 0h1m1 0h1m4 0h1m3 0h2m1 0h1m14 0h1M295 261.5h1m1 0h2m4 0h4m6 0h3m2 0h2m27 0h1M296 262.5h1m2 0h3m3 0h1m1 0h2m1 0h1m4 0h1m3 0h1m2 0h1m5 0h1m11 0h1M289 263.5h1m4 0h2m1 0h11m1 0h1m3 0h1m1 0h1m1 0h1m1 0h1m1 0h1M299 264.5h4m3 0h2m2 0h1m3 0h1m2 0h1m2 0h1m4 0h1M293 265.5h1m2 0h3m3 0h3m2 0h1m6 0h3m4 0h1m1 0h1m13 0h1M270 266.5h1m4 0h1m11 0h1m5 0h1m2 0h1m1 0h1m19 0h1M312 267.5h1m1 0h1m2 0h1m4 0h1M293 268.5h1m9 0h2m2 0h1m3 0h2M285 269.5h2m16 0h1m6 0h1m1 0h1m13 0h1m8 0h1M278 270.5h1m28 0h1m4 0h1m2 0h1m3 0h1m1 0h1m23 0h1M317 271.5h2m1 0h1m8 0h1m2 0h1m2 0h1m2 0h1M317 272.5h1m1 0h2m1 0h1m2 0h1m1 0h2m2 0h1m1 0h2m2 0h1m2 0h1M286 273.5h1m31 0h1m1 0h1m1 0h1m15 0h1M285 274.5h1m25 0h1m8 0h1m1 0h2m1 0h1m6 0h1M307 275.5h1m7 0h1m2 0h1m1 0h1m1 0h1m1 0h7m5 0h2M262 276.5h1m10 0h1m7 0h1m20 0h1m3 0h1m1 0h1m1 0h1m1 0h2m2 0h1m1 0h2m1 0h1m1 0h2m1 0h1m1 0h1m2 0h1m1 0h1m2 0h1M279 277.5h1m12 0h1m17 0h1m1 0h1m1 0h1m1 0h7m1 0h7m2 0h1m1 0h1m2 0h1M280 278.5h1m18 0h1m8 0h1m5 0h9m1 0h5m2 0h1m2 0h1M277 279.5h1m18 0h1m14 0h5m1 0h9m2 0h2m2 0h3M294 280.5h2m11 0h1m2 0h1m1 0h3m1 0h2m1 0h9m1 0h2M277 281.5h1m17 0h1m1 0h1m15 0h21m5 0h1M306 282.5h1m2 0h5m1 0h17M274 283.5h2m9 0h1m17 0h2m2 0h3m2 0h19m1 0h1M306 284.5h1m1 0h18m2 0h3m1 0h1M274 285.5h2m23 0h1m3 0h1m1 0h1m1 0h20m1 0h1m1 0h1m1 0h1m2 0h1M306 286.5h19m1 0h2m1 0h3M274 287.5h1m21 0h2m4 0h1m1 0h2m1 0h21m2 0h1m2 0h1M269 288.5h2m20 0h1m8 0h1m2 0h1m3 0h18M271 289.5h2m17 0h1m3 0h1m8 0h1m1 0h21m1 0h3M269 290.5h3m21 0h1m3 0h1m5 0h22M268 291.5h2m27 0h1m5 0h19m1 0h3m2 0h1m7 0h1M264 292.5h1m3 0h1m1 0h1m14 0h1m10 0h1m2 0h1m2 0h1m1 0h15m1 0h1m1 0h3m3 0h2M266 293.5h1m35 0h3m1 0h13m1 0h1m1 0h3M267 294.5h2m28 0h1m2 0h1m1 0h13m1 0h1m1 0h5M265 295.5h2m27 0h1m7 0h3m1 0h12m2 0h1m4 0h1m2 0h1M264 296.5h1m2 0h1m26 0h1m4 0h2m2 0h10m1 0h2m5 0h3M264 297.5h2m31 0h1m3 0h1m3 0h2m1 0h2m1 0h2m1 0h1m6 0h2m2 0h2M263 298.5h2m34 0h1m2 0h1m1 0h1m1 0h3m1 0h2m2 0h1m4 0h1M261 299.5h1m2 0h1m32 0h1m2 0h1m2 0h1m1 0h1m9 0h1m1 0h1m2 0h3M260 300.5h4m41 0h1m1 0h1m1 0h1M262 301.5h3m31 0h1m6 0h1m6 0h1m3 0h2M260 302.5h1m1 0h1m32 0h1m4 0h1m5 0h1m12 0h1M260 303.5h1m54 0h1M257 304.5h3m25 0h1M302 305.5h1m5 0h1m6 0h1M257 306.5h1m58 0h1M258 307.5h1m46 0h1M254 308.5h1m2 0h1M253 309.5h1m4 0h1M255 310.5h2m44 0h1M255 311.5h2m57 0h1M253 312.5h1m1 0h2M249 316.5h2M249 317.5h1M250 318.5h1M248 320.5h1M245 323.5h1M246 324.5h1M273 326.5h1" stroke="#000" stroke-width="1" fill="none" filter="url(#soft)"/>
<rect x="235.7" y="217.4" width="137.4" height="123.6" fill="none" stroke="#000" stroke-width="2.8"/>
<path d="M237 340L271.2 265L283.2 284.5Z" fill="none" stroke="#000" stroke-width="1.8"/>
<line x1="266.6" y1="315" x2="377.2" y2="315" stroke="#000" stroke-width="2.6"/>
<path d="M384.5 315L376.7 310.5L376.7 319.5Z" fill="#000"/>
<text x="221.2" y="313.6" font-size="17" font-weight="bold" text-anchor="start" fill="#000" transform="rotate(-90 221.2 313.6)">Hst Blue</text>
<text x="272" y="370.3" font-size="17" font-weight="bold" text-anchor="start" fill="#000" textLength="66.4" lengthAdjust="spacingAndGlyphs">Hst Red</text>
<text x="235.9" y="355.2" font-size="9.6" text-anchor="middle" fill="#000" stroke="#000" stroke-width=".2">0</text>
<text x="262.9" y="355.2" font-size="9.6" text-anchor="middle" fill="#000" stroke="#000" stroke-width=".2">50</text>
<text x="289.9" y="355.2" font-size="9.6" text-anchor="middle" fill="#000" stroke="#000" stroke-width=".2">100</text>
<text x="316.9" y="355.2" font-size="9.6" text-anchor="middle" fill="#000" stroke="#000" stroke-width=".2">150</text>
<text x="343.9" y="355.2" font-size="9.6" text-anchor="middle" fill="#000" stroke="#000" stroke-width=".2">200</text>
<text x="370.9" y="355.2" font-size="9.6" text-anchor="middle" fill="#000" stroke="#000" stroke-width=".2">250</text>
<text x="231.3" y="341" font-size="9.6" text-anchor="middle" fill="#000" stroke="#000" stroke-width=".2" transform="rotate(-90 231.3 341)">0</text>
<text x="231.3" y="319.2" font-size="9.6" text-anchor="middle" fill="#000" stroke="#000" stroke-width=".2" transform="rotate(-90 231.3 319.2)">50</text>
<text x="231.3" y="294.4" font-size="9.6" text-anchor="middle" fill="#000" stroke="#000" stroke-width=".2" transform="rotate(-90 231.3 294.4)">100</text>
<text x="231.3" y="269.1" font-size="9.6" text-anchor="middle" fill="#000" stroke="#000" stroke-width=".2" transform="rotate(-90 231.3 269.1)">150</text>
<text x="231.3" y="243.6" font-size="9.6" text-anchor="middle" fill="#000" stroke="#000" stroke-width=".2" transform="rotate(-90 231.3 243.6)">200</text>
<text x="231.3" y="218.5" font-size="9.6" text-anchor="middle" fill="#000" stroke="#000" stroke-width=".2" transform="rotate(-90 231.3 218.5)">250</text>
<line x1="427.9" y1="320.5" x2="427.9" y2="339" stroke="#666" stroke-width="0.7"/>
<line x1="427.9" y1="330.5" x2="427.9" y2="339" stroke="#000" stroke-width="1.0"/>
<line x1="429.7" y1="320.5" x2="429.7" y2="339" stroke="#666" stroke-width="0.7"/>
<line x1="429.7" y1="330.5" x2="429.7" y2="339" stroke="#000" stroke-width="1.0"/>
<line x1="433.9" y1="320.5" x2="433.9" y2="339" stroke="#666" stroke-width="0.7"/>
<line x1="433.9" y1="330.5" x2="433.9" y2="339" stroke="#000" stroke-width="1.0"/>
<line x1="435.7" y1="320.5" x2="435.7" y2="339" stroke="#666" stroke-width="0.7"/>
<line x1="435.7" y1="330.5" x2="435.7" y2="339" stroke="#000" stroke-width="1.0"/>
<line x1="439.3" y1="320.5" x2="439.3" y2="339" stroke="#666" stroke-width="0.7"/>
<line x1="439.3" y1="330.5" x2="439.3" y2="339" stroke="#000" stroke-width="1.0"/>
<line x1="493.5" y1="320.5" x2="493.5" y2="339" stroke="#666" stroke-width="0.7"/>
<line x1="493.5" y1="330.5" x2="493.5" y2="339" stroke="#000" stroke-width="1.0"/>
<line x1="469.7" y1="300" x2="469.7" y2="339" stroke="#2a2a2a" stroke-width="0.85"/>
<line x1="470.95" y1="300" x2="470.95" y2="339" stroke="#2a2a2a" stroke-width="0.85"/>
<line x1="472.2" y1="300" x2="472.2" y2="339" stroke="#2a2a2a" stroke-width="0.85"/>
<line x1="473.45" y1="300" x2="473.45" y2="339" stroke="#2a2a2a" stroke-width="0.85"/>
<rect x="469" y="320.8" width="15.8" height="19" fill="#000"/>
<rect x="474.7" y="289.4" width="8.7" height="32" fill="#000" fill-opacity="0.92"/>
<rect x="477.6" y="280" width="5.6" height="10" fill="#000"/>
<rect x="475.4" y="259.2" width="5.6" height="31" fill="#000" fill-opacity="0.75"/>
<line x1="474.2" y1="305" x2="474.2" y2="332" stroke="#bbb" stroke-width="0.6"/>
<line x1="475.2" y1="238.3" x2="475.2" y2="339" stroke="#333" stroke-width="0.9"/>
<line x1="478.3" y1="218.5" x2="478.3" y2="339" stroke="#333" stroke-width="0.9"/>
<line x1="482.4" y1="238.3" x2="482.4" y2="339" stroke="#333" stroke-width="0.9"/>
<line x1="480.4" y1="259" x2="480.4" y2="339" stroke="#222" stroke-width="0.9"/>
<rect x="415.6" y="216" width="97.3" height="123.6" fill="none" stroke="#000" stroke-width="2.8"/>
<line x1="458.5" y1="267.4" x2="502.2" y2="267.4" stroke="#484848" stroke-width="1"/>
<line x1="458.5" y1="263.5" x2="458.5" y2="271.4" stroke="#484848" stroke-width="1"/>
<line x1="502.2" y1="263.5" x2="502.2" y2="271.4" stroke="#484848" stroke-width="1"/>
<text x="404.4" y="304" font-size="17" font-weight="bold" text-anchor="start" fill="#000" transform="rotate(-90 404.4 304)">Counts</text>
<text x="422.4" y="368.4" font-size="17" font-weight="bold" text-anchor="start" fill="#000" textLength="74.6" lengthAdjust="spacingAndGlyphs">cKit-APC</text>
<text x="414.6" y="353.3" font-size="9.1" text-anchor="middle" fill="#000" stroke="#000" stroke-width=".15">10<tspan font-size="8.46" dx=".5" dy="-3.82">0</tspan></text>
<text x="439" y="353.3" font-size="9.1" text-anchor="middle" fill="#000" stroke="#000" stroke-width=".15">10<tspan font-size="8.46" dx=".5" dy="-3.82">1</tspan></text>
<text x="463" y="353.3" font-size="9.1" text-anchor="middle" fill="#000" stroke="#000" stroke-width=".15">10<tspan font-size="8.46" dx=".5" dy="-3.82">2</tspan></text>
<text x="487.4" y="353.3" font-size="9.1" text-anchor="middle" fill="#000" stroke="#000" stroke-width=".15">10<tspan font-size="8.46" dx=".5" dy="-3.82">3</tspan></text>
<text x="511.6" y="353.3" font-size="9.1" text-anchor="middle" fill="#000" stroke="#000" stroke-width=".15">10<tspan font-size="8.46" dx=".5" dy="-3.82">4</tspan></text>
<text x="-.6" y="395.1" font-size="28" font-weight="bold" text-anchor="start" fill="#000">C</text>
<rect x="87.2" y="447.1" width="15" height="84" fill="#fff" stroke="#000" stroke-width="1.8"/>
<rect x="114.3" y="445" width="16.2" height="86" fill="#000"/>
<line x1="94.4" y1="442.5" x2="94.4" y2="447" stroke="#000" stroke-width="1.3"/>
<line x1="91.2" y1="442.5" x2="97.6" y2="442.5" stroke="#000" stroke-width="1.3"/>
<line x1="121.4" y1="438.3" x2="121.4" y2="445" stroke="#000" stroke-width="1.3"/>
<line x1="118" y1="438.3" x2="124.5" y2="438.3" stroke="#000" stroke-width="1.3"/>
<rect x="76.5" y="405.9" width="64.6" height="125.1" fill="none" stroke="#000" stroke-width="2.7"/>
<line x1="70" y1="427" x2="80.8" y2="427" stroke="#000" stroke-width="1.4"/>
<text x="39.6" y="433.2" font-size="17" font-weight="bold" text-anchor="start" fill="#000">390</text>
<line x1="70" y1="472.5" x2="80.8" y2="472.5" stroke="#000" stroke-width="1.4"/>
<text x="39.6" y="478.7" font-size="17" font-weight="bold" text-anchor="start" fill="#000">370</text>
<line x1="70" y1="518.2" x2="80.8" y2="518.2" stroke="#000" stroke-width="1.4"/>
<text x="39.6" y="524.4" font-size="17" font-weight="bold" text-anchor="start" fill="#000">350</text>
<text x="81.8" y="557" font-size="17" font-weight="bold" text-anchor="start" fill="#000">FL</text>
<text x="113.8" y="557" font-size="17" font-weight="bold" text-anchor="start" fill="#000">BM</text>
<text x="31.9" y="535.4" font-size="17.5" font-weight="bold" text-anchor="start" fill="#000" transform="rotate(-90 31.9 535.4)">M.F.I (geometric)</text>
<text x="216.2" y="395.4" font-size="28" font-weight="bold" text-anchor="start" fill="#000">D</text>
<rect x="286.6" y="472.4" width="15.6" height="56" fill="#fff" stroke="#000" stroke-width="1.8"/>
<rect x="311.9" y="478.8" width="16.2" height="50" fill="#000"/>
<line x1="294.3" y1="429.5" x2="294.3" y2="472" stroke="#000" stroke-width="1.2"/>
<line x1="290.5" y1="429.5" x2="298" y2="429.5" stroke="#000" stroke-width="1.3"/>
<line x1="320.5" y1="444.3" x2="320.5" y2="479" stroke="#000" stroke-width="1.2"/>
<line x1="317" y1="444.3" x2="324.2" y2="444.3" stroke="#000" stroke-width="1.3"/>
<rect x="274.2" y="404.4" width="65" height="124.1" fill="none" stroke="#000" stroke-width="2.7"/>
<line x1="268.5" y1="418.7" x2="279.3" y2="418.7" stroke="#000" stroke-width="1.4"/>
<line x1="269" y1="472.4" x2="279.3" y2="472.4" stroke="#000" stroke-width="1.4"/>
<text x="257.2" y="423.5" font-size="17" font-weight="bold" text-anchor="start" fill="#000">2</text>
<text x="257.6" y="480.8" font-size="17" font-weight="bold" text-anchor="start" fill="#000">1</text>
<text x="281.6" y="556.4" font-size="17" font-weight="bold" text-anchor="start" fill="#000">FL</text>
<text x="311" y="556.4" font-size="17" font-weight="bold" text-anchor="start" fill="#000">BM</text>
<text x="230.2" y="528.2" font-size="17.2" font-weight="bold" text-anchor="start" fill="#000" transform="rotate(-90 230.2 528.2)">Fold-change in</text>
<text x="251.2" y="534.4" font-size="17" font-weight="bold" text-anchor="start" fill="#000" transform="rotate(-90 251.2 534.4)">gene expression</text>
</svg></body></html>
